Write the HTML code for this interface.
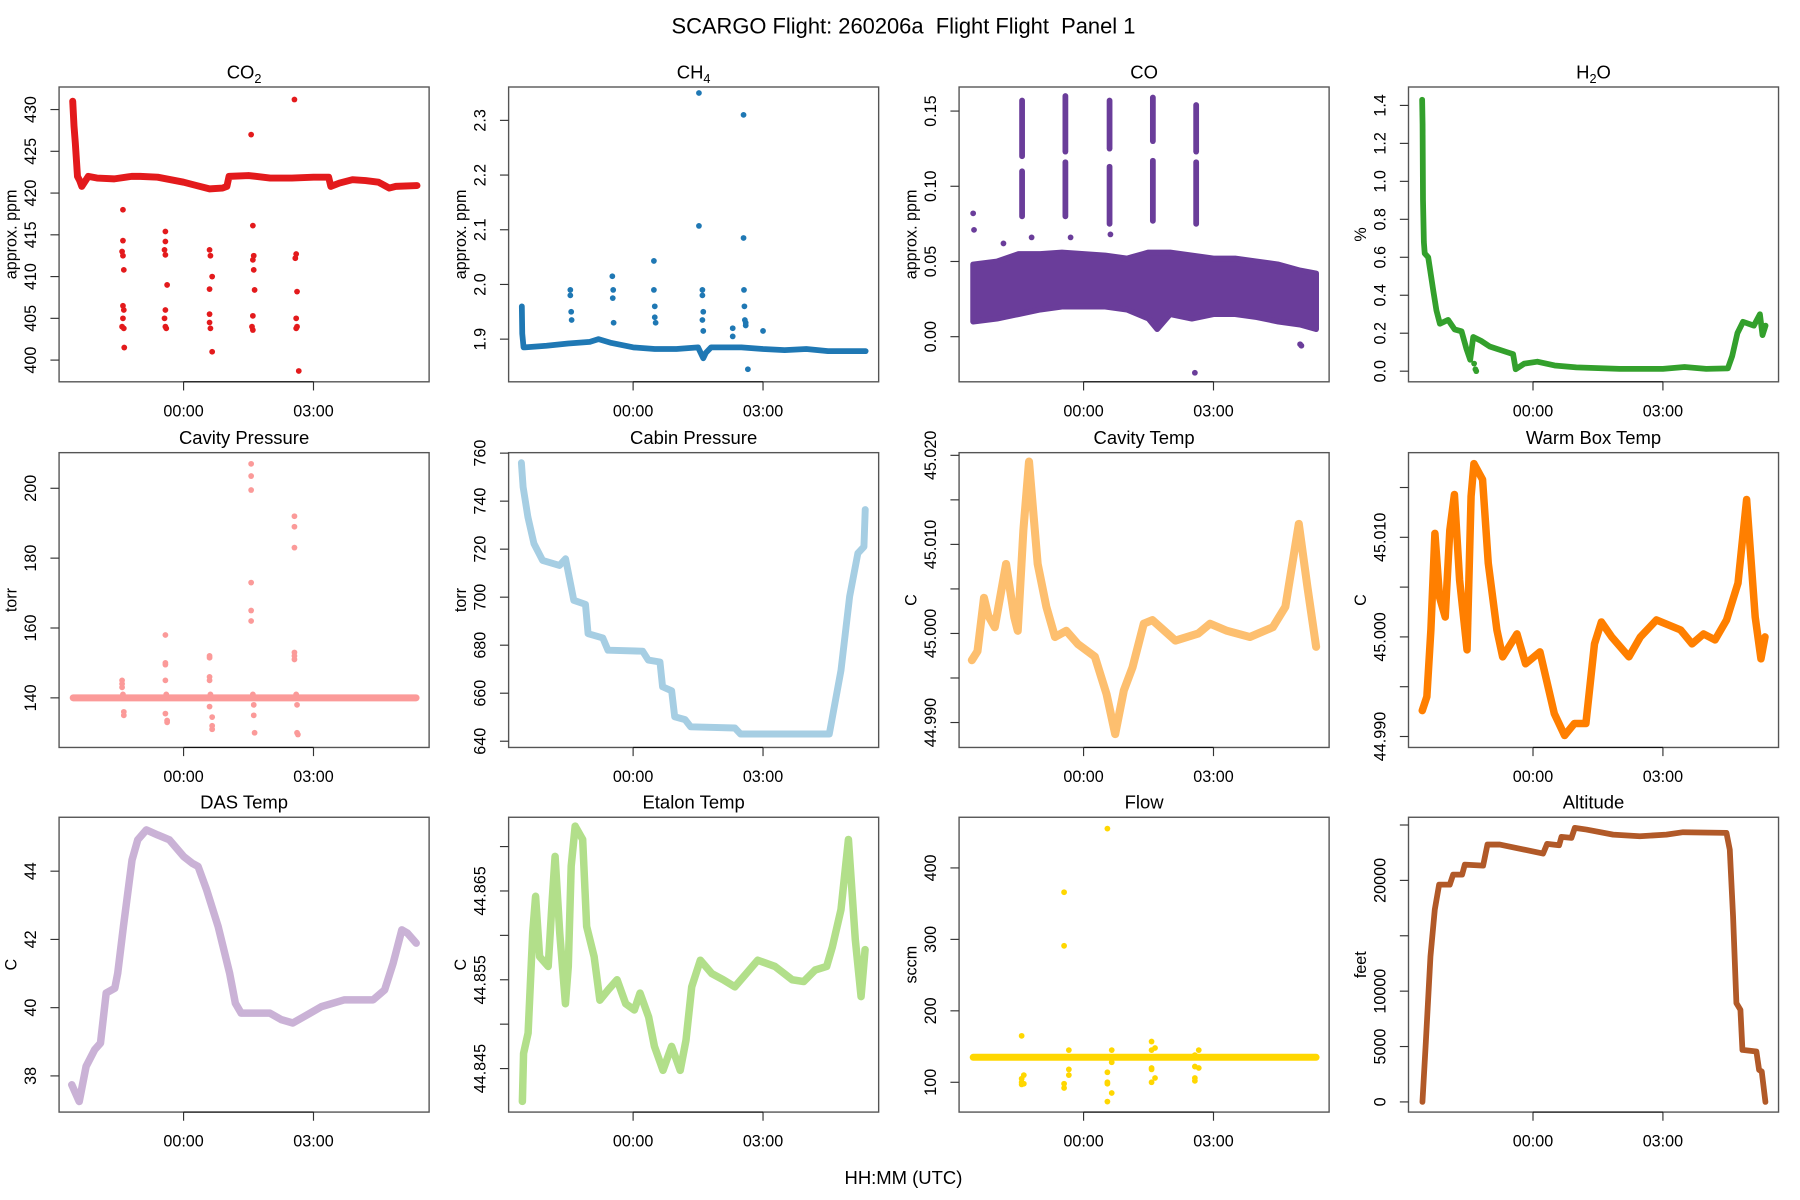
<!DOCTYPE html>
<html><head><meta charset="utf-8"><title>SCARGO Flight 260206a Panel 1</title>
<style>
html,body{margin:0;padding:0;background:#fff;}
svg{display:block;font-family:"Liberation Sans",Arial,sans-serif;}
</style></head>
<body>
<svg id="chart" xmlns="http://www.w3.org/2000/svg" width="1800" height="1200" viewBox="0 0 1560 1040">
<rect x="0" y="0" width="1560" height="1040" fill="#fff"/>
<text x="783" y="29" font-size="19" text-anchor="middle" style="white-space:pre" xml:space="preserve">SCARGO Flight: 260206a  Flight Flight  Panel 1</text>
<text x="783" y="1026" font-size="16" text-anchor="middle">HH:MM (UTC)</text>
</svg>
<script>
// ---------- data (time in hours relative to 00:00 UTC) ----------
const xTickVals=[0,3];
const xTickLabels=["00:00","03:00"];

const co2T=[-2.56,-2.53,-2.5,-2.45,-2.4,-2.35,-2.2,-2,-1.6,-1.2,-1,-0.6,-0.3,0,0.3,0.6,0.9,1.0,1.05,1.5,2,2.5,3,3.35,3.4,3.6,3.9,4.2,4.5,4.75,4.9,5.39];
const co2V=[431,428,426,422,421.5,420.8,422,421.8,421.7,422,422,421.9,421.6,421.3,420.9,420.5,420.6,420.8,422,422.1,421.8,421.8,421.9,421.9,420.8,421.2,421.6,421.5,421.3,420.6,420.8,420.9];
const co2OutT=[-1.4,-1.4,-1.42,-1.4,-1.38,-1.4,-1.38,-1.4,-1.42,-1.38,-1.37,-0.42,-0.42,-0.44,-0.42,-0.38,-0.42,-0.44,-0.42,-0.4,0.6,0.62,0.66,0.6,0.6,0.6,0.62,0.66,1.56,1.6,1.62,1.6,1.62,1.64,1.6,1.58,1.6,2.56,2.6,2.58,2.62,2.6,2.62,2.6,2.66];
const co2OutV=[418,414.3,413,412.5,410.8,406.5,406,405,404,403.8,401.5,415.4,414.2,413.2,412.6,409,406,405,404,403.8,413.2,412.5,410,408.5,405.5,404.5,403.8,401,427,416.1,412.5,412,410.8,408.4,405.3,404,403.6,431.2,412.7,412.2,408.2,405,404,403.8,398.7];

const ch4T=[-2.57,-2.56,-2.53,-2.5,-2,-1.5,-1,-0.8,-0.5,0,0.5,1,1.5,1.62,1.68,1.8,2.5,3,3.5,4,4.5,5.37];
const ch4V=[1.96,1.91,1.885,1.885,1.888,1.892,1.895,1.9,1.893,1.885,1.882,1.882,1.885,1.865,1.875,1.885,1.885,1.882,1.88,1.882,1.878,1.878];
const ch4OutT=[-1.45,-1.45,-1.43,-1.42,-0.48,-0.46,-0.47,-0.45,0.48,0.48,0.5,0.5,0.52,1.52,1.52,1.6,1.6,1.62,1.6,1.62,2.55,2.55,2.56,2.57,2.58,2.6,2.6,2.65,3.0,2.3,2.3];
const ch4OutV=[1.99,1.98,1.95,1.935,2.015,1.99,1.975,1.93,2.043,1.99,1.96,1.94,1.93,2.35,2.107,1.99,1.98,1.95,1.935,1.915,2.31,2.085,1.99,1.96,1.935,1.93,1.925,1.845,1.915,1.92,1.905];

const coT=[-2.55,-2,-1.5,-1,-0.5,0,0.5,1,1.5,1.7,2,2.5,3,3.5,4,4.5,5,5.37];
const coHi=[0.048,0.05,0.055,0.055,0.056,0.055,0.054,0.052,0.056,0.056,0.056,0.054,0.052,0.052,0.05,0.048,0.044,0.042];
const coLo=[0.01,0.012,0.015,0.018,0.02,0.02,0.02,0.018,0.012,0.005,0.015,0.012,0.015,0.015,0.013,0.01,0.008,0.005];
const coStreakT=[-1.42,-1.42,-0.42,-0.42,0.6,0.6,1.6,1.6,2.6,2.6];
const coStreakLo=[0.12,0.08,0.123,0.08,0.125,0.075,0.13,0.077,0.123,0.075];
const coStreakHi=[0.157,0.11,0.16,0.116,0.157,0.113,0.159,0.117,0.154,0.116];
const coOutT=[-2.55,-2.53,-1.85,-1.2,-0.3,0.62,2.57,5.0,5.03];
const coOutV=[0.082,0.071,0.062,0.066,0.066,0.068,-0.024,-0.005,-0.006];

const h2oT=[-2.56,-2.55,-2.54,-2.52,-2.5,-2.42,-2.3,-2.23,-2.15,-1.96,-1.81,-1.65,-1.54,-1.45,-1.38,-1.2,-1.0,-0.6,-0.46,-0.4,-0.2,0.1,0.5,1,2,3,3.5,4.0,4.5,4.6,4.72,4.85,5.1,5.24,5.3,5.37];
const h2oV=[1.43,1.3,0.9,0.68,0.62,0.6,0.42,0.32,0.25,0.27,0.22,0.21,0.12,0.06,0.18,0.16,0.13,0.1,0.09,0.01,0.04,0.05,0.03,0.02,0.012,0.012,0.022,0.012,0.015,0.08,0.2,0.26,0.24,0.3,0.19,0.24];
const h2oOutT=[-1.36,-1.33,-1.31];
const h2oOutV=[0.04,0.01,0.0];

const cpT=[-2.55,5.37];
const cpV=[140,140];
const cpOutT=[-1.42,-1.42,-1.42,-1.4,-1.38,-1.38,-0.42,-0.42,-0.42,-0.42,-0.4,-0.42,-0.38,-0.38,0.6,0.6,0.6,0.6,0.62,0.6,0.66,0.66,0.66,1.56,1.56,1.56,1.56,1.56,1.56,1.6,1.62,1.62,1.64,2.56,2.56,2.56,2.56,2.56,2.56,2.6,2.62,2.62,2.64];
const cpOutV=[145,144,143,141,136,135,158,150,149.5,145,141,135.5,133.5,133,152,151.5,146,145,141,137.5,134.5,132,131,207,203.5,199.5,173,165,162,141,138,135,130,192,189,183,153,152,151,141,138,130,129.5];

const cabT=[-2.58,-2.54,-2.43,-2.29,-2.09,-1.7,-1.56,-1.43,-1.37,-1.1,-1.04,-0.7,-0.58,0.22,0.35,0.62,0.68,0.89,0.96,1.2,1.33,2.35,2.48,4.53,4.8,5.0,5.19,5.33,5.36];
const cabV=[756,745.9,733.4,722.3,715.3,713.2,716,704.2,698.7,697,684.8,683,677.9,677.5,673.8,673,662.7,661,650.2,649,646,645.5,643,643,669.5,700.3,718.3,721,736.5];

const ctT=[-2.58,-2.45,-2.3,-2.2,-2.05,-1.79,-1.6,-1.52,-1.39,-1.26,-1.06,-0.86,-0.66,-0.4,-0.13,0.26,0.53,0.73,0.93,1.13,1.39,1.59,2.12,2.65,2.92,3.31,3.84,4.37,4.66,4.97,5.17,5.37];
const ctV=[44.997,44.998,45.004,45.002,45.0007,45.0078,45.0018,45.0003,45.0116,45.0193,45.0078,45.003,44.9996,45.0003,44.9988,44.9974,44.9932,44.9887,44.9936,44.9962,45.0011,45.0015,44.9992,45.0,45.0011,45.0003,44.9996,45.0007,45.003,45.0123,45.0052,44.9985];

const wbT=[-2.557,-2.451,-2.358,-2.265,-2.159,-2.027,-1.921,-1.815,-1.695,-1.523,-1.43,-1.364,-1.165,-1.033,-0.834,-0.701,-0.37,-0.171,0.16,0.492,0.73,0.956,1.221,1.42,1.579,1.817,2.215,2.48,2.851,3.408,3.673,3.938,4.204,4.469,4.734,4.933,5.131,5.264,5.357];
const wbV=[44.9926,44.994,45.0007,45.0104,45.004,45.002,45.0107,45.0143,45.0057,44.9987,45.0141,45.0174,45.0158,45.0074,45.0007,44.998,45.0003,44.9973,44.9985,44.9923,44.9901,44.9913,44.9913,44.9993,45.0015,45.0,44.998,45.0,45.0017,45.0007,44.9993,45.0003,44.9997,45.0017,45.0054,45.0138,45.002,44.9978,45.0];

const dasT=[-2.582,-2.41,-2.251,-2.052,-1.919,-1.787,-1.588,-1.521,-1.389,-1.19,-1.058,-0.859,-0.594,-0.328,0.003,0.202,0.334,0.533,0.798,1.063,1.196,1.329,1.992,2.256,2.522,2.787,3.184,3.715,3.98,4.377,4.643,4.841,5.04,5.173,5.372];
const dasV=[37.74,37.25,38.28,38.77,38.96,40.43,40.57,41.01,42.38,44.33,44.92,45.21,45.06,44.92,44.43,44.23,44.14,43.45,42.38,41.01,40.13,39.84,39.84,39.65,39.55,39.74,40.03,40.23,40.23,40.23,40.52,41.31,42.28,42.18,41.89];

const etT=[-2.557,-2.53,-2.425,-2.319,-2.252,-2.159,-1.961,-1.868,-1.802,-1.695,-1.563,-1.497,-1.43,-1.338,-1.165,-1.073,-0.9,-0.768,-0.569,-0.37,-0.171,0.028,0.16,0.359,0.492,0.69,0.889,1.088,1.221,1.353,1.552,1.817,2.083,2.348,2.613,2.878,3.276,3.673,3.938,4.204,4.469,4.601,4.8,4.972,5.131,5.264,5.357];
const etV=[44.8413,44.8467,44.849,44.8603,44.8644,44.8576,44.8565,44.864,44.8689,44.8603,44.8523,44.8565,44.8678,44.8723,44.8708,44.861,44.8576,44.8527,44.8539,44.855,44.8523,44.8516,44.8535,44.8508,44.8475,44.8448,44.8475,44.8448,44.8482,44.8542,44.8572,44.8557,44.855,44.8542,44.8557,44.8572,44.8565,44.855,44.8548,44.8561,44.8565,44.8587,44.8629,44.8708,44.8595,44.8531,44.8584];

const flowT=[-2.55,5.37];
const flowV=[135,135];
const flowOutT=[-1.43,-1.43,-1.43,-1.43,-1.38,-1.38,-0.45,-0.45,-0.45,-0.45,-0.34,-0.34,-0.34,0.55,0.55,0.55,0.55,0.55,0.65,0.65,0.65,1.57,1.57,1.57,1.57,1.57,1.65,1.65,2.57,2.57,2.57,2.57,2.66,2.66];
const flowOutV=[165,105,100,97,110,98,366,291,98,92,145,118,110,455,114,100,98,73,145,85,128,157,145,120,118,100,148,106,138,122,106,102,145,120];

const altT=[-2.553,-2.476,-2.368,-2.268,-2.168,-1.922,-1.845,-1.637,-1.575,-1.152,-1.052,-0.767,0.233,0.326,0.603,0.657,0.888,0.965,1.234,1.85,2.466,3.081,3.466,4.467,4.544,4.62,4.697,4.79,4.836,5.159,5.221,5.282,5.367];
const altV=[0,5300,13135,17360,19614,19614,20521,20521,21420,21330,23234,23234,22420,23297,23170,23923,23840,24737,24590,24131,23985,24131,24350,24290,22775,16755,8920,8315,4695,4550,2890,2744,0];

// ---------- layout ----------
const svg=document.getElementById('chart');
const NS='http://www.w3.org/2000/svg';
const colX=[51.2,440.8,831.2,1220.7], rowY=[75.4,392.3,708.3];
const PW=320.7, PH=255.5, XL=-2.875, XR=5.67;

function el(tag,parent){const e=document.createElementNS(NS,tag);(parent||svg).appendChild(e);return e;}

function makePanel(name,titleParts,col,row,ylim,ticks,labelTicks,ylab){
  const x0=colX[col], y0=rowY[row];
  const g=el('g');
  
  
  const sx=t=>x0+(t-XL)/(XR-XL)*PW;
  const sy=v=>y0+PH-(v-ylim[0])/(ylim[1]-ylim[0])*PH;
  const tt=el('text',g);
  
  
  tt.setAttribute('x',x0+PW/2);tt.setAttribute('y',y0-7.5);
  tt.setAttribute('font-size','16');tt.setAttribute('text-anchor','middle');
  titleParts.forEach(p=>{const s=el('tspan',tt);s.textContent=p[0];
    if(p[1]){s.setAttribute('font-size','11');s.setAttribute('dy','4');}
    else if(tt.childNodes.length>1){s.setAttribute('dy','-4');}});
  const dg=el('g',g);
  
  
  const b=el('rect',g);
  
  
  b.setAttribute('x',x0);b.setAttribute('y',y0);b.setAttribute('width',PW);b.setAttribute('height',PH);
  b.setAttribute('fill','none');b.setAttribute('stroke','#555');b.setAttribute('stroke-width','1.2');
  xTickVals.forEach((v,i)=>{
    const l=el('line',g);
    
    
    l.setAttribute('x1',sx(v));l.setAttribute('x2',sx(v));l.setAttribute('y1',y0+PH);l.setAttribute('y2',y0+PH+7.5);
    l.setAttribute('stroke','#333');
    const t=el('text',g);
    
    
    t.setAttribute('x',sx(v));t.setAttribute('y',y0+PH+30);t.setAttribute('font-size','14');t.setAttribute('text-anchor','middle');
    t.textContent=xTickLabels[i];
  });
  const xl=el('line',g);
  
  
  xl.setAttribute('x1',sx(xTickVals[0]));xl.setAttribute('x2',sx(xTickVals[xTickVals.length-1]));
  xl.setAttribute('y1',y0+PH);xl.setAttribute('y2',y0+PH);xl.setAttribute('stroke','#111');
  ticks.forEach((v,i)=>{
    const l=el('line',g);
    
    
    l.setAttribute('x1',x0);l.setAttribute('x2',x0-7.5);l.setAttribute('y1',sy(v));l.setAttribute('y2',sy(v));
    l.setAttribute('stroke','#333');
    if(labelTicks[i]!==''){
      const t=el('text',g);
      
      
      const tx=x0-20, ty=sy(v);
      t.setAttribute('x',tx);t.setAttribute('y',ty);t.setAttribute('font-size','14');t.setAttribute('text-anchor','middle');
      t.setAttribute('transform','rotate(-90 '+tx+' '+ty+')');
      t.textContent=labelTicks[i];
    }
  });
  const yt=el('text',g);
  
  
  const ytx=x0-37, yty=y0+PH/2;
  yt.setAttribute('x',ytx);yt.setAttribute('y',yty);yt.setAttribute('font-size','14');yt.setAttribute('text-anchor','middle');
  yt.setAttribute('transform','rotate(-90 '+ytx+' '+yty+')');
  yt.textContent=ylab;
  const cpId='clip-'+name;
  const cp=el('clipPath',g);cp.setAttribute('id',cpId);
  const cr=el('rect',cp);cr.setAttribute('x',x0);cr.setAttribute('y',y0);cr.setAttribute('width',PW);cr.setAttribute('height',PH);
  dg.setAttribute('clip-path','url(#'+cpId+')');
  return {sx,sy,g:dg,name};
}

function drawLine(p,ts,vs,color,w){
  const pl=el('polyline',p.g);
  
  
  pl.setAttribute('points',ts.map((t,i)=>p.sx(t).toFixed(2)+','+p.sy(vs[i]).toFixed(2)).join(' '));
  pl.setAttribute('fill','none');pl.setAttribute('stroke',color);pl.setAttribute('stroke-width',w);
  pl.setAttribute('stroke-linejoin','round');pl.setAttribute('stroke-linecap','round');
}
function drawPoints(p,ts,vs,color,r){
  ts.forEach((t,i)=>{
    const c=el('circle',p.g);
    
    
    c.setAttribute('cx',p.sx(t));c.setAttribute('cy',p.sy(vs[i]));c.setAttribute('r',r);c.setAttribute('fill',color);
  });
}

let p=makePanel('co2',[['CO'],['2',1]],0,0,[397.4,432.7],[400,405,410,415,420,425,430],['400','405','410','415','420','425','430'],'approx. ppm');
drawLine(p,co2T,co2V,'#E31A1C',6);
drawPoints(p,co2OutT,co2OutV,'#E31A1C',2.5);

p=makePanel('ch4',[['CH'],['4',1]],1,0,[1.822,2.361],[1.9,2.0,2.1,2.2,2.3],['1.9','2.0','2.1','2.2','2.3'],'approx. ppm');
drawLine(p,ch4T,ch4V,'#1F78B4',5);
drawPoints(p,ch4OutT,ch4OutV,'#1F78B4',2.5);

p=makePanel('co',[['CO']],2,0,[-0.030,0.166],[0,0.05,0.1,0.15],['0.00','0.05','0.10','0.15'],'approx. ppm');
{
  const pts=coT.map((t,i)=>p.sx(t).toFixed(2)+','+p.sy(coHi[i]).toFixed(2))
    .concat(coT.slice().reverse().map((t,j)=>{const i=coT.length-1-j;return p.sx(t).toFixed(2)+','+p.sy(coLo[i]).toFixed(2);}));
  const pg=el('polygon',p.g);
  
  
  pg.setAttribute('points',pts.join(' '));pg.setAttribute('fill','#6A3D9A');pg.setAttribute('stroke','#6A3D9A');pg.setAttribute('stroke-width','5');pg.setAttribute('stroke-linejoin','round');
  coStreakT.forEach((t,i)=>{
    const l=el('line',p.g);
    
    
    l.setAttribute('x1',p.sx(t));l.setAttribute('x2',p.sx(t));l.setAttribute('y1',p.sy(coStreakLo[i]));l.setAttribute('y2',p.sy(coStreakHi[i]));
    l.setAttribute('stroke','#6A3D9A');l.setAttribute('stroke-width','5');l.setAttribute('stroke-linecap','round');
  });
  drawPoints(p,coOutT,coOutV,'#6A3D9A',2.5);
}

p=makePanel('h2o',[['H'],['2',1],['O']],3,0,[-0.056,1.497],[0,0.2,0.4,0.6,0.8,1.0,1.2,1.4],['0.0','0.2','0.4','0.6','0.8','1.0','1.2','1.4'],'%');
drawLine(p,h2oT,h2oV,'#33A02C',5);
drawPoints(p,h2oOutT,h2oOutV,'#33A02C',2.5);

p=makePanel('cavity-pressure',[['Cavity Pressure']],0,1,[125.8,210.2],[140,160,180,200],['140','160','180','200'],'torr');
drawLine(p,cpT,cpV,'#FB9A99',6);
drawPoints(p,cpOutT,cpOutV,'#FB9A99',2.5);

p=makePanel('cabin-pressure',[['Cabin Pressure']],1,1,[637.4,760.2],[640,660,680,700,720,740,760],['640','660','680','700','720','740','760'],'torr');
drawLine(p,cabT,cabV,'#A6CEE3',6);

p=makePanel('cavity-temp',[['Cavity Temp']],2,1,[44.9872,45.0203],[44.99,44.995,45.0,45.005,45.01,45.015,45.02],['44.990','','45.000','','45.010','','45.020'],'C');
drawLine(p,ctT,ctV,'#FDBF6F',7);

p=makePanel('warm-box-temp',[['Warm Box Temp']],3,1,[44.9889,45.0185],[44.99,44.995,45.0,45.005,45.01,45.015],['44.990','','45.000','','45.010',''],'C');
drawLine(p,wbT,wbV,'#FF7F00',6.5);

p=makePanel('das-temp',[['DAS Temp']],0,2,[36.94,45.58],[38,40,42,44],['38','40','42','44'],'C');
drawLine(p,dasT,dasV,'#CAB2D6',6.5);

p=makePanel('etalon-temp',[['Etalon Temp']],1,2,[44.8401,44.8733],[44.845,44.85,44.855,44.86,44.865,44.87],['44.845','','44.855','','44.865',''],'C');
drawLine(p,etT,etV,'#B2DF8A',6.5);

p=makePanel('flow',[['Flow']],2,2,[58.3,470.9],[100,200,300,400],['100','200','300','400'],'sccm');
drawLine(p,flowT,flowV,'#FFD700',6);
drawPoints(p,flowOutT,flowOutV,'#FFD700',2.5);

p=makePanel('altitude',[['Altitude']],3,2,[-917,25698],[0,5000,10000,15000,20000,25000],['0','5000','10000','','20000',''],'feet');
drawLine(p,altT,altV,'#B15928',5);
</script>
</body></html>
